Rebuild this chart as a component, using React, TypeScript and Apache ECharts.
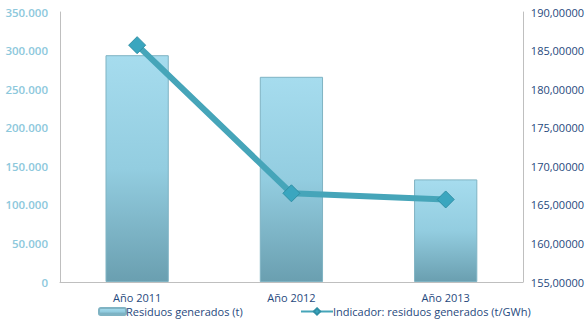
import React, { useEffect, useRef } from "react";
import * as echarts from "echarts";

const categories = ["Año 2011", "Año 2012", "Año 2013"];
const residuos = [294000, 266000, 133000];
const indicador = [185.7, 166.5, 165.7];
const barName = "Residuos generados (t)";
const lineName = "Indicador: residuos generados (t/GWh)";

export default function App() {
  const ref = useRef<HTMLDivElement>(null);
  useEffect(() => {
    const chart = echarts.init(ref.current!, null, { renderer: "svg" });
    const font = "'Open Sans', 'Noto Sans', sans-serif";
    chart.setOption({
      animation: false,
      textStyle: { fontFamily: font },
      grid: { left: 60, right: 63, top: 12, bottom: 43 },
      legend: [
        {
          data: [barName],
          left: 93,
          top: 301,
          itemWidth: 27,
          itemHeight: 7,
          itemGap: 2,
          textStyle: { color: "#1f497d", fontSize: 11, fontFamily: font, padding: [0, 0, 0, -5] },
        },
        {
          data: [lineName],
          left: 295,
          top: 301,
          itemWidth: 32,
          itemHeight: 8,
          textStyle: { color: "#1f497d", fontSize: 11, fontFamily: font, padding: [0, 0, 0, -5] },
        },
      ],
      xAxis: {
        type: "category",
        data: categories,
        axisLine: { lineStyle: { color: "#bfbfbf" } },
        axisTick: { show: false },
        axisLabel: { color: "#1f497d", fontSize: 11, margin: 10 },
      },
      yAxis: [
        {
          type: "value",
          min: 0,
          max: 350000,
          interval: 50000,
          axisLine: { show: true, lineStyle: { color: "#bfbfbf" } },
          axisTick: { show: false },
          splitLine: { show: false },
          axisLabel: {
            color: "#8dc8dc",
            fontSize: 11.5,
            fontWeight: 600,
            margin: 12,
            formatter: (v: number) =>
              v === 0 ? "0" : v.toLocaleString("de-DE", { maximumFractionDigits: 0 }).replace(/,/g, "."),
          },
        },
        {
          type: "value",
          min: 155,
          max: 190,
          interval: 5,
          position: "right",
          axisLine: { show: true, lineStyle: { color: "#bfbfbf" } },
          axisTick: { show: false },
          splitLine: { show: false },
          axisLabel: {
            color: "#1f497d",
            fontSize: 11,
            margin: 8,
            formatter: (v: number) => v.toFixed(5).replace(".", ","),
          },
        },
      ],
      series: [
        {
          name: barName,
          type: "bar",
          data: residuos,
          barWidth: "41%",
          itemStyle: {
            color: new echarts.graphic.LinearGradient(0, 0, 0, 1, [
              { offset: 0, color: "#a6dcee" },
              { offset: 0.5, color: "#93cde0" },
              { offset: 1, color: "#6a9fb0" },
            ]),
            borderColor: "#7fb3c3",
            borderWidth: 1,
          },
        },
        {
          name: lineName,
          type: "line",
          yAxisIndex: 1,
          data: indicador,
          symbol: "diamond",
          symbolSize: 17,
          lineStyle: { color: "#46a5b9", width: 6 },
          itemStyle: { color: "#3aa6bf", borderColor: "#2f8fa5", borderWidth: 1 },
        },
      ],
    });
    return () => chart.dispose();
  }, []);
  return <div ref={ref} style={{ width: 587, height: 325, position: "absolute", left: 0, top: 0 }} />;
}
